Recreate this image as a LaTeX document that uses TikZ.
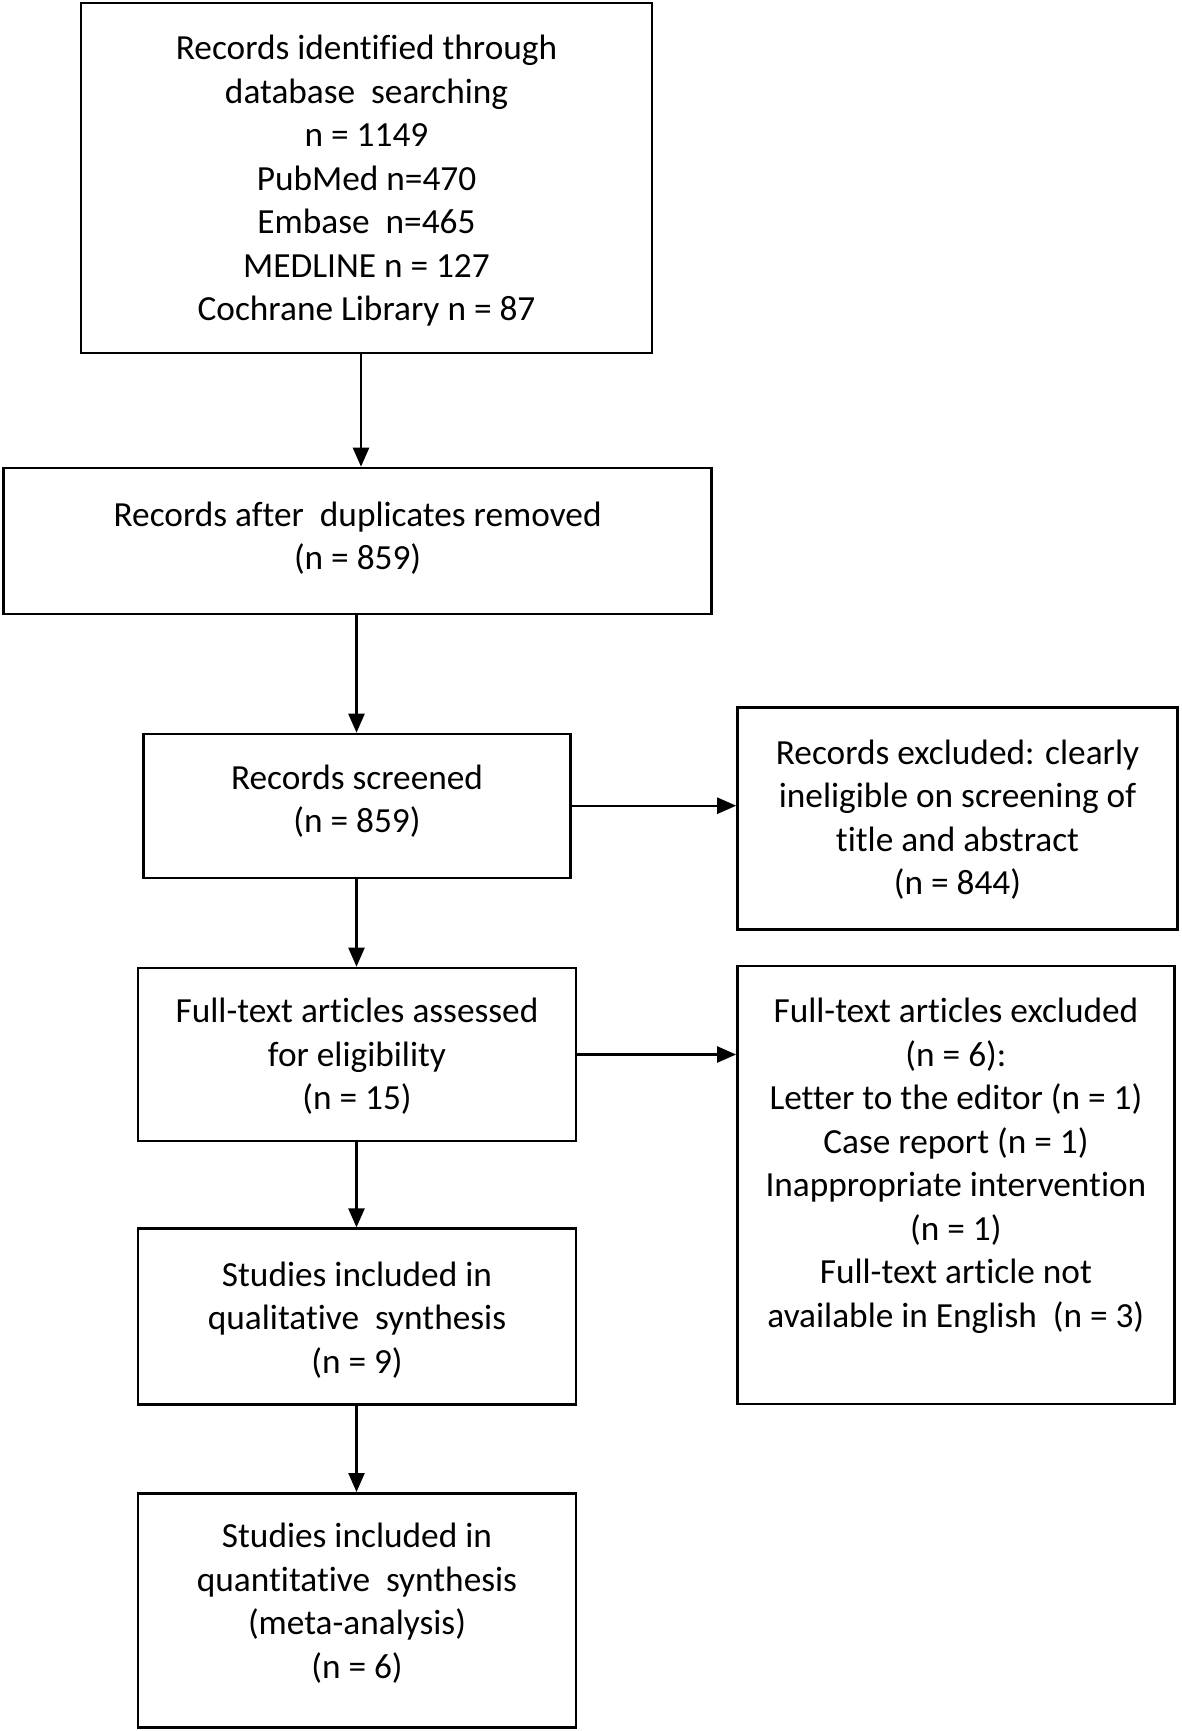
\documentclass[tikz,border=0pt]{standalone}
\usepackage{fontspec}
\setmainfont{Carlito}[Ligatures=CommonOff]
\usetikzlibrary{arrows.meta}
\begin{document}
\begin{tikzpicture}[x=1pt,y=-1pt,
  box/.style={draw=black, line width=2.6pt, inner sep=0pt, fill=none},
  txt/.style={align=center, inner sep=0pt, font=\fontsize{35.3}{43.5}\selectfont},
  arr/.style={line width=2.4pt, -{Triangle[length=19pt,width=16pt]}}]
\useasboundingbox[fill=white] (0,0) rectangle (1181,1731);
% boxes
\node[box, minimum width=571pt, minimum height=350pt] (b1) at (366.5,178) {};
\node[box, minimum width=708pt, minimum height=146pt] (b2) at (357.6,541) {};
\node[box, minimum width=427pt, minimum height=144pt] (b3) at (357,806) {};
\node[box, minimum width=440pt, minimum height=222pt] (b4) at (957.5,818.4) {};
\node[box, minimum width=438pt, minimum height=173pt] (b5) at (357,1054.5) {};
\node[box, minimum width=437pt, minimum height=438pt] (b6) at (955.9,1184.8) {};
\node[box, minimum width=438pt, minimum height=176pt] (b7) at (357,1316.7) {};
\node[box, minimum width=438pt, minimum height=234pt] (b8) at (357,1610.3) {};
% texts
\node[txt] (t1) at (366.5,181) {Records identified through\\database\ \ searching\\n = 1149\\PubMed n=470\\Embase\ \ n=465\\MEDLINE n = 127\\Cochrane Library n = 87};
\node[txt] (t2) at (357.6,538.3) {Records after\ \ duplicates removed\\(n = 859)};
\node[txt] (t3) at (357,801) {Records screened\\(n = 859)};
\node[txt] (t4) at (957.5,819.5) {Records excluded: clearly\\ineligible on screening of\\title and abstract\\(n = 844)};
\node[txt] (t5) at (357,1056.3) {Full-text articles assessed\\for eligibility\\(n = 15)};
\node[txt] (t6) at (955.9,1166) {Full-text articles excluded\\(n = 6):\\Letter to the editor (n = 1)\\Case report (n = 1)\\Inappropriate intervention\\(n = 1)\\Full-text article not\\available in English\ \ (n = 3)};
\node[txt] (t7) at (357,1320) {Studies included in\\qualitative\ \ synthesis\\(n = 9)};
\node[txt] (t8) at (357,1603.3) {Studies included in\\quantitative\ \ synthesis\\(meta-analysis)\\(n = 6)};
% connectors
\draw[arr] (b1.south -| 361,0) -- (b2.north -| 361,0);
\draw[arr] (b2.south -| 356.5,0) -- (b3.north -| 356.5,0);
\draw[arr] (b3.south -| 356.5,0) -- (b5.north -| 356.5,0);
\draw[arr] (b5.south -| 356.5,0) -- (b7.north -| 356.5,0);
\draw[arr] (b7.south -| 356.5,0) -- (b8.north -| 356.5,0);
\draw[arr] (b3.east |- 0,805.7) -- (b4.west |- 0,805.7);
\draw[arr] (b5.east) -- (b6.west |- b5.east);
\end{tikzpicture}
\end{document}
